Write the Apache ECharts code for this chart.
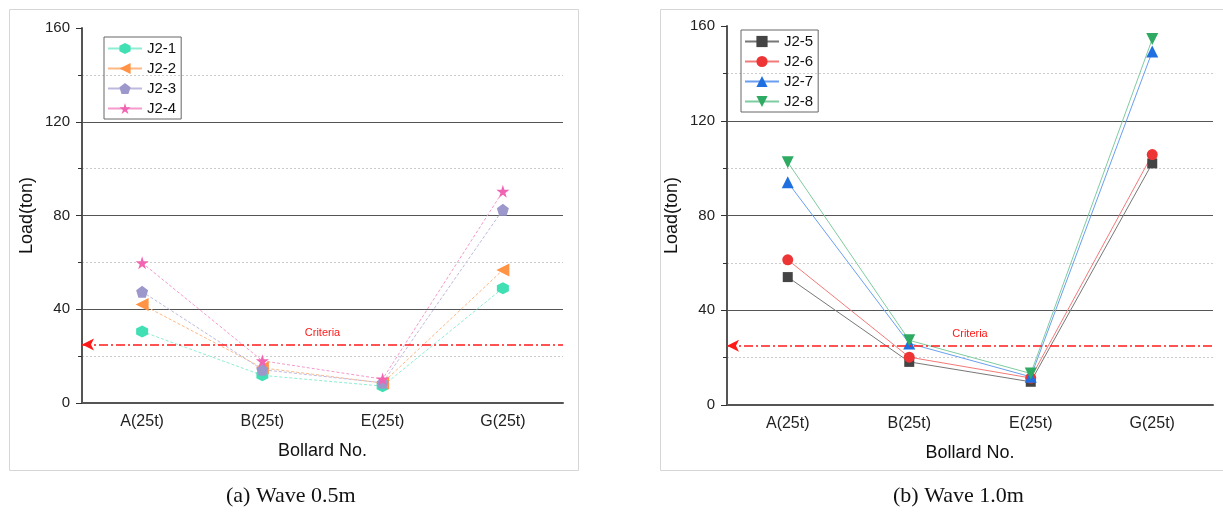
<!DOCTYPE html>
<html>
<head>
<meta charset="utf-8">
<script src="https://cdn.jsdelivr.net/npm/echarts@6/dist/echarts.min.js"></script>
<style>
  html, body { margin: 0; padding: 0; background: #fff; }
  #chart { width: 1223px; height: 517px; }
</style>
</head>
<body>
<div id="chart"></div>
<script>
// bollards on the x axis
var categories = ['A(25t)', 'B(25t)', 'E(25t)', 'G(25t)'];
// (a) wave 0.5m
var j21 = [30.5, 11.8, 7.2, 49.0];
var j22 = [42.0, 15.0, 8.5, 56.8];
var j23 = [47.5, 14.2, 8.6, 82.5];
var j24 = [59.8, 18.0, 10.2, 90.3];
// (b) wave 1.0m
var j25 = [54.0, 18.2, 9.8, 102.0];
var j26 = [61.3, 20.2, 11.4, 105.7];
var j27 = [94.0, 26.0, 11.9, 149.2];
var j28 = [102.5, 27.3, 13.3, 154.5];
var criteria = 25;
var yTicks = [0, 40, 80, 120, 160];

var FONT = 'Liberation Sans';
var hexagon = 'path://M50,0 L93,25 L93,75 L50,100 L7,75 L7,25 Z';
var pentagon = 'path://M50,0 L100,38 L81,100 L19,100 L0,38 Z';
var star = 'path://M50,0 L61,35 L98,35 L68,57 L79,91 L50,70 L21,91 L32,57 L2,35 L39,35 Z';

var myChart = echarts.init(document.getElementById('chart'));

function xAxisOf(idx) {
  return {
    type: 'category',
    gridIndex: idx,
    data: categories,
    boundaryGap: true,
    axisLine: { lineStyle: { color: '#555', width: 2 } },
    axisTick: { alignWithLabel: true, length: 6, lineStyle: { color: '#333' } },
    axisLabel: { color: '#222', fontSize: 16, fontFamily: FONT, margin: 11 },
    name: 'Bollard No.',
    nameLocation: 'middle',
    nameGap: 39,
    nameTextStyle: { color: '#111', fontSize: 18, fontFamily: FONT }
  };
}

function yAxisOf(idx) {
  return {
    type: 'value',
    gridIndex: idx,
    min: yTicks[0],
    max: yTicks[yTicks.length - 1],
    interval: 40,
    axisLine: { show: true, lineStyle: { color: '#555', width: 2 } },
    axisTick: { show: true, length: 6, lineStyle: { color: '#333' } },
    minorTick: { show: true, splitNumber: 2, length: 4, lineStyle: { color: '#333' } },
    axisLabel: { color: '#222', fontSize: 15, fontFamily: FONT, margin: 12 },
    splitLine: { show: true, showMinLine: false, showMaxLine: false, lineStyle: { color: '#555', width: 1 } },
    minorSplitLine: { show: true, lineStyle: { color: '#ccc', type: [2, 2], width: 1 } },
    name: 'Load(ton)',
    nameLocation: 'middle',
    nameGap: 46,
    nameTextStyle: { color: '#111', fontSize: 18, fontFamily: FONT }
  };
}

function criteriaLine() {
  return {
    silent: true,
    symbol: ['arrow', 'none'],
    symbolSize: [9, 12],
    lineStyle: { color: '#ff1a1a', width: 1.6, type: [9, 3, 2, 3] },
    label: {
      show: true, position: 'middle', formatter: 'Criteria',
      color: '#ff1a1a', fontSize: 11, fontFamily: FONT, distance: 6
    },
    data: [{ yAxis: criteria }]
  };
}

function line(name, data, idx, color, lineColor, symbol, size, rotate, dashed, withMark) {
  var s = {
    name: name,
    type: 'line',
    xAxisIndex: idx,
    yAxisIndex: idx,
    data: data,
    symbol: symbol,
    symbolSize: size,
    symbolRotate: rotate,
    itemStyle: { color: color },
    lineStyle: { color: lineColor, width: 1, type: dashed ? [3, 2] : 'solid' },
    z: 3
  };
  if (withMark) s.markLine = criteriaLine();
  return s;
}

var legendBase = {
  orient: 'vertical',
  borderColor: '#666',
  borderWidth: 1,
  padding: [4, 5, 3, 3],
  itemWidth: 34,
  itemHeight: 14,
  itemGap: 5,
  lineStyle: { type: 'solid' },
  textStyle: { color: '#111', fontSize: 15, fontFamily: FONT }
};

var option = {
  animation: false,
  backgroundColor: '#fff',
  grid: [
    { left: 82, right: 660, top: 28, bottom: 114 },
    { left: 727, right: 10, top: 26, bottom: 112 }
  ],
  xAxis: [xAxisOf(0), xAxisOf(1)],
  yAxis: [yAxisOf(0), yAxisOf(1)],
  legend: [
    Object.assign({ left: 104, top: 37, data: ['J2-1', 'J2-2', 'J2-3', 'J2-4'] }, legendBase),
    Object.assign({ left: 741, top: 30, data: ['J2-5', 'J2-6', 'J2-7', 'J2-8'] }, legendBase)
  ],
  graphic: [
    { type: 'rect', left: 7, top: 7, shape: { width: 569, height: 461 }, style: { fill: 'none', stroke: '#d6d6d6', lineWidth: 1 }, silent: true },
    { type: 'rect', left: 658, top: 7, shape: { width: 580, height: 461 }, style: { fill: 'none', stroke: '#d6d6d6', lineWidth: 1 }, silent: true },
    { type: 'text', left: 226, top: 485, style: { text: '(a) Wave 0.5m', font: '22px "Liberation Serif"', fill: '#111' } },
    { type: 'text', left: 893, top: 485, style: { text: '(b) Wave 1.0m', font: '22px "Liberation Serif"', fill: '#111' } }
  ],
  series: [
    line('J2-1', j21, 0, '#40e0b4', '#8eeed3', hexagon, 12, 0, true, true),
    line('J2-2', j22, 0, '#ff9446', '#ffb884', 'triangle', 13, 90, true, false),
    line('J2-3', j23, 0, '#9d98cc', '#bdb9de', pentagon, 12, 0, true, false),
    line('J2-4', j24, 0, '#f064b2', '#f59acb', star, 13, 0, true, false),
    line('J2-5', j25, 1, '#444444', '#777777', 'rect', 10, 0, false, true),
    line('J2-6', j26, 1, '#ee3535', '#f47a7a', 'circle', 11, 0, false, false),
    line('J2-7', j27, 1, '#1f6fe0', '#6a9ff0', 'triangle', 12, 0, false, false),
    line('J2-8', j28, 1, '#2eaa62', '#7fcca0', 'triangle', 12, 180, false, false)
  ]
};

myChart.setOption(option);
</script>
</body>
</html>
